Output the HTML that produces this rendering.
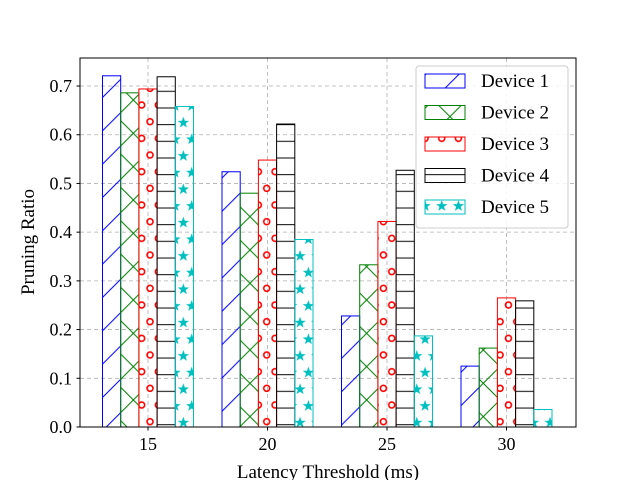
<!DOCTYPE html>
<html><head><meta charset="utf-8"><style>
body{margin:0;background:#fff}
svg{display:block;font-family:"Liberation Serif",serif}
</style></head><body>
<svg id="chart" width="640" height="480" viewBox="0 0 640 480" xmlns="http://www.w3.org/2000/svg">
<defs>
<pattern id="p1" patternUnits="userSpaceOnUse" width="33.33" height="33.33"><path d="M-2,35.33 L35.33,-2 M-2,2 L2,-2 M31.33,35.33 L35.33,31.33" stroke="#0000ff" stroke-width="1"/></pattern>
<pattern id="p2" patternUnits="userSpaceOnUse" width="33.33" height="33.33"><path d="M0,33.33 L33.33,0 M0,0 L33.33,33.33" stroke="#008000" stroke-width="1"/></pattern>
<pattern id="p3" patternUnits="userSpaceOnUse" width="16.67" height="33.33"><circle cx="8.33" cy="5" r="3" fill="none" stroke="#ff0000" stroke-width="1.6"/><circle cx="0" cy="21.7" r="3" fill="none" stroke="#ff0000" stroke-width="1.6"/><circle cx="16.67" cy="21.7" r="3" fill="none" stroke="#ff0000" stroke-width="1.6"/></pattern>
<pattern id="p4" patternUnits="userSpaceOnUse" width="16.67" height="16.67"><path d="M0,8 L16.67,8" stroke="#000" stroke-width="1"/></pattern>
<pattern id="p5" patternUnits="userSpaceOnUse" width="16.67" height="33.33"><polygon points="0,-6 1.4,-1.9 5.7,-1.8 2.3,0.7 3.5,4.8 0,2.4 -3.5,4.8 -2.3,0.7 -5.7,-1.8 -1.4,-1.9" fill="#00bfbf" transform="translate(8.33,6)"/><polygon points="0,-6 1.4,-1.9 5.7,-1.8 2.3,0.7 3.5,4.8 0,2.4 -3.5,4.8 -2.3,0.7 -5.7,-1.8 -1.4,-1.9" fill="#00bfbf" transform="translate(0,22.7)"/><polygon points="0,-6 1.4,-1.9 5.7,-1.8 2.3,0.7 3.5,4.8 0,2.4 -3.5,4.8 -2.3,0.7 -5.7,-1.8 -1.4,-1.9" fill="#00bfbf" transform="translate(16.67,22.7)"/></pattern>
</defs>
<g id="grid"></g>
<g id="bars"></g>
<rect x="80" y="58" width="496" height="369" fill="none" stroke="#000" stroke-width="1"/>
<g id="ticks"></g>
<text transform="translate(34,242) rotate(-90)" text-anchor="middle" font-size="19">Pruning Ratio</text>
<text x="328" y="478" text-anchor="middle" font-size="19">Latency Threshold (ms)</text>
<g id="legend"></g>
</svg>
<script>
const categories=[15,20,25,30];
const seriesNames=["Device 1","Device 2","Device 3","Device 4","Device 5"];
const device1=[0.721,0.524,0.228,0.125];
const device2=[0.686,0.480,0.333,0.162];
const device3=[0.694,0.548,0.422,0.265];
const device4=[0.719,0.622,0.527,0.259];
const device5=[0.658,0.385,0.187,0.036];
const yTicks=[0.0,0.1,0.2,0.3,0.4,0.5,0.6,0.7];
const series=[device1,device2,device3,device4,device5];
const colors=["#0000ff","#008000","#ff0000","#000000","#00bfbf"];
const NS="http://www.w3.org/2000/svg";
const yS=v=>427-v*487.1;
const xS=c=>148+(c-15)*23.9;
const bw=18.2;
function mk(t,a,p){const e=document.createElementNS(NS,t);for(const k in a)e.setAttribute(k,a[k]);p.appendChild(e);return e;}
const grid=document.getElementById('grid'),bars=document.getElementById('bars'),ticks=document.getElementById('ticks'),leg=document.getElementById('legend');
yTicks.forEach(v=>{
  const l=mk('line',{x1:80,x2:576,y1:yS(v),y2:yS(v),stroke:'#b0b0b0','stroke-dasharray':'4,3','stroke-width':0.8},grid);
  
  
  const tk=mk('line',{x1:76.5,x2:80,y1:yS(v),y2:yS(v),stroke:'#000'},ticks);
  
  
  const t=mk('text',{x:72,y:yS(v)+6,'text-anchor':'end','font-size':18},ticks);t.textContent=v.toFixed(1);
  
  
});
categories.forEach(c=>{
  const l=mk('line',{x1:xS(c),x2:xS(c),y1:58,y2:427,stroke:'#b0b0b0','stroke-dasharray':'4,3','stroke-width':0.8},grid);
  
  
  const tk=mk('line',{x1:xS(c),x2:xS(c),y1:427,y2:430.5,stroke:'#000'},ticks);
  
  
  const t=mk('text',{x:xS(c),y:450,'text-anchor':'middle','font-size':18},ticks);t.textContent=c;
  
  
});
series.forEach((s,i)=>{
  s.forEach((v,j)=>{
    const x=xS(categories[j])+(i-2.5)*bw;
    const r=mk('rect',{x:x,y:yS(v),width:bw,height:427-yS(v),fill:'url(#p'+(i+1)+')',stroke:colors[i],'stroke-width':1},bars);
    
    
  });
});
const lb=mk('rect',{x:416,y:66,width:152,height:162,rx:3,fill:'#fff','fill-opacity':0.85,stroke:'#ccc'},leg);


seriesNames.forEach((n,i)=>{
  const y=74+i*31.5;
  const r=mk('rect',{x:425,y:y,width:40,height:14,fill:'url(#p'+(i+1)+')',stroke:colors[i]},leg);
  
  
  const t=mk('text',{x:481,y:y+13,'font-size':19},leg);t.textContent=n;
  
  
});
</script>
</body></html>
